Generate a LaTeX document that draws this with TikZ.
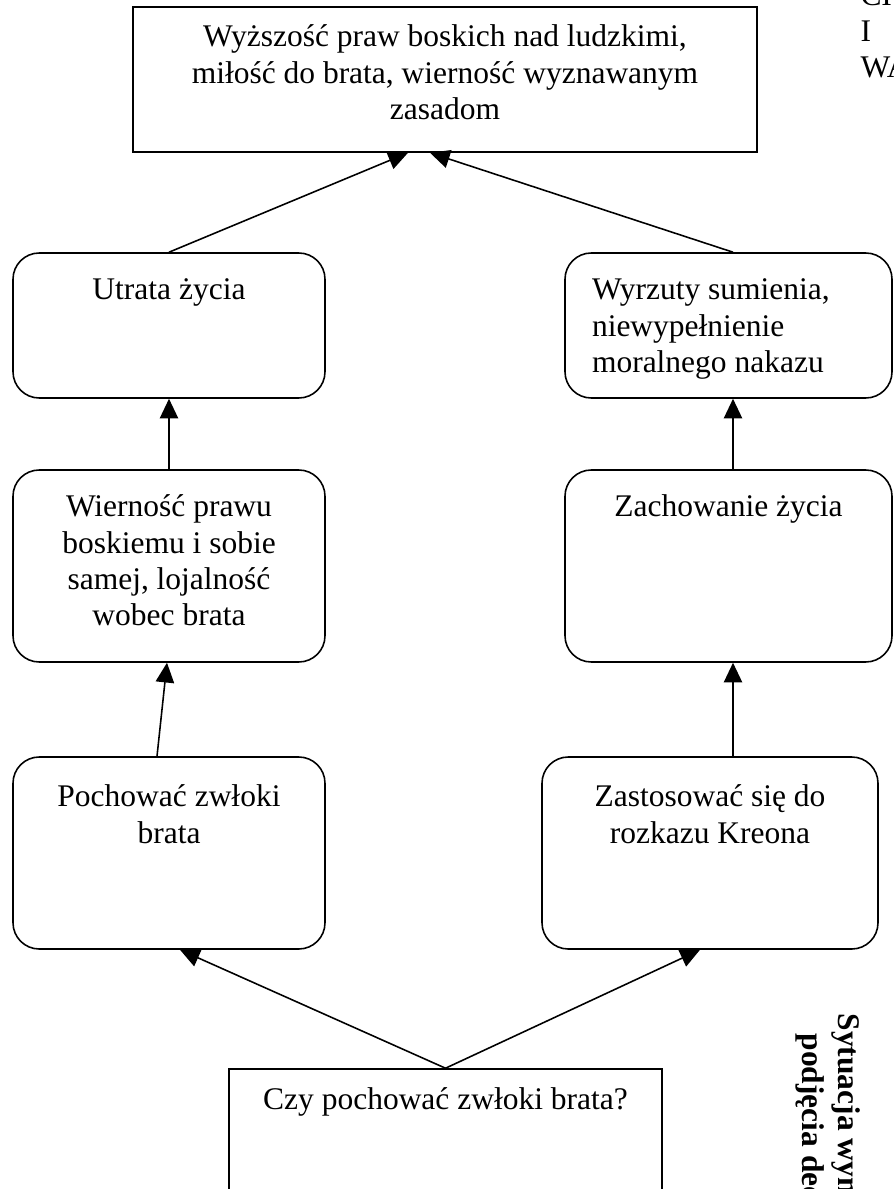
\documentclass[tikz,border=0pt]{standalone}
\usepackage{fontspec}
\setmainfont{Liberation Serif}
\usetikzlibrary{arrows.meta,calc}

\newdimen\px \px=0.381pt
% text of a box: alignment, width, height, gap above first line, text
\newcommand{\boxtxt}[5]{\parbox[c][#3\px][t]{#2\px}{#1\vspace*{#4\px}\strut#5}}

\begin{document}
\begin{tikzpicture}[x=\px,y=-\px,font=\fontsize{12pt}{13.8pt}\selectfont,
    card/.style={draw,rounded corners=10pt,inner sep=0pt,line width=0.6pt},
    frame/.style={draw,inner sep=0pt,line width=0.6pt},
    link/.style={-{Triangle[length=7.5pt,width=7pt]},line width=0.6pt},
    side/.style={anchor=base west,rotate=-90,inner sep=0pt,font=\fontsize{12pt}{13.8pt}\selectfont\bfseries}]
  \fill[white] (0,0) rectangle (893,1189);
  \useasboundingbox (0,0) rectangle (893,1189);
  \clip (0,0) rectangle (893,1189);

  \node[frame] (goal) at (445,79.5) {\boxtxt{\centering}{624}{145}{14.6}{Wyższość praw boskich nad ludzkimi,\\ miłość do brata, wierność wyznawanym\\ zasadom}};

  \node[card] (utrata) at (169,325.5) {\boxtxt{\centering}{312}{145}{21.6}{Utrata życia}};
  \node[card] (wyrzuty) at (728.5,325.5) {\boxtxt{\raggedright\leftskip=27\px}{327}{145}{21.6}{Wyrzuty sumienia,\\ niewypełnienie\\ moralnego nakazu}};

  \node[card] (wiernosc) at (169,566) {\boxtxt{\centering}{312}{192}{21.6}{Wierność prawu\\ boskiemu i sobie\\ samej, lojalność\\ wobec brata}};
  \node[card] (zachowanie) at (728.5,566) {\boxtxt{\centering}{327}{192}{21.6}{Zachowanie życia}};

  \node[card] (pochowac) at (169,853) {\boxtxt{\centering}{312}{192}{24.6}{Pochować zwłoki\\ brata}};
  \node[card] (zastosowac) at (710,853) {\boxtxt{\centering}{336}{192}{24.6}{Zastosować się do\\ rozkazu Kreona}};

  \node[frame] (pytanie) at (445.5,1164.5) {\boxtxt{\centering}{433}{191}{15.6}{Czy pochować zwłoki brata?}};

  \draw[link] (utrata.north) -- ($(goal.south)+(-37,0)$);
  \draw[link] ($(wyrzuty.north)+(4.5,0)$) -- ($(goal.south)+(-15,0)$);
  \draw[link] (wiernosc.north) -- (utrata.south);
  \draw[link] ($(zachowanie.north)+(4.5,0)$) -- ($(wyrzuty.south)+(4.5,0)$);
  \draw[link] ($(pochowac.north)+(-12,0)$) -- ($(wiernosc.south)+(-2,0)$);
  \draw[link] ($(zastosowac.north)+(23,0)$) -- ($(zachowanie.south)+(4.5,0)$);
  \draw[link] (pytanie.north) -- ($(pochowac.south)+(11,0)$);
  \draw[link] (pytanie.north) -- ($(zastosowac.south)+(-10,0)$);

  \node[anchor=base west,align=left,inner sep=0pt] (naglowek) at (860,78) {CH\\I\\WA};
  \node[side] (sytuacja) at (838,1013) {Sytuacja wymagająca};
  \node[side] (podjecie) at (802,1033) {podjęcia decyzji};
\end{tikzpicture}
\end{document}
